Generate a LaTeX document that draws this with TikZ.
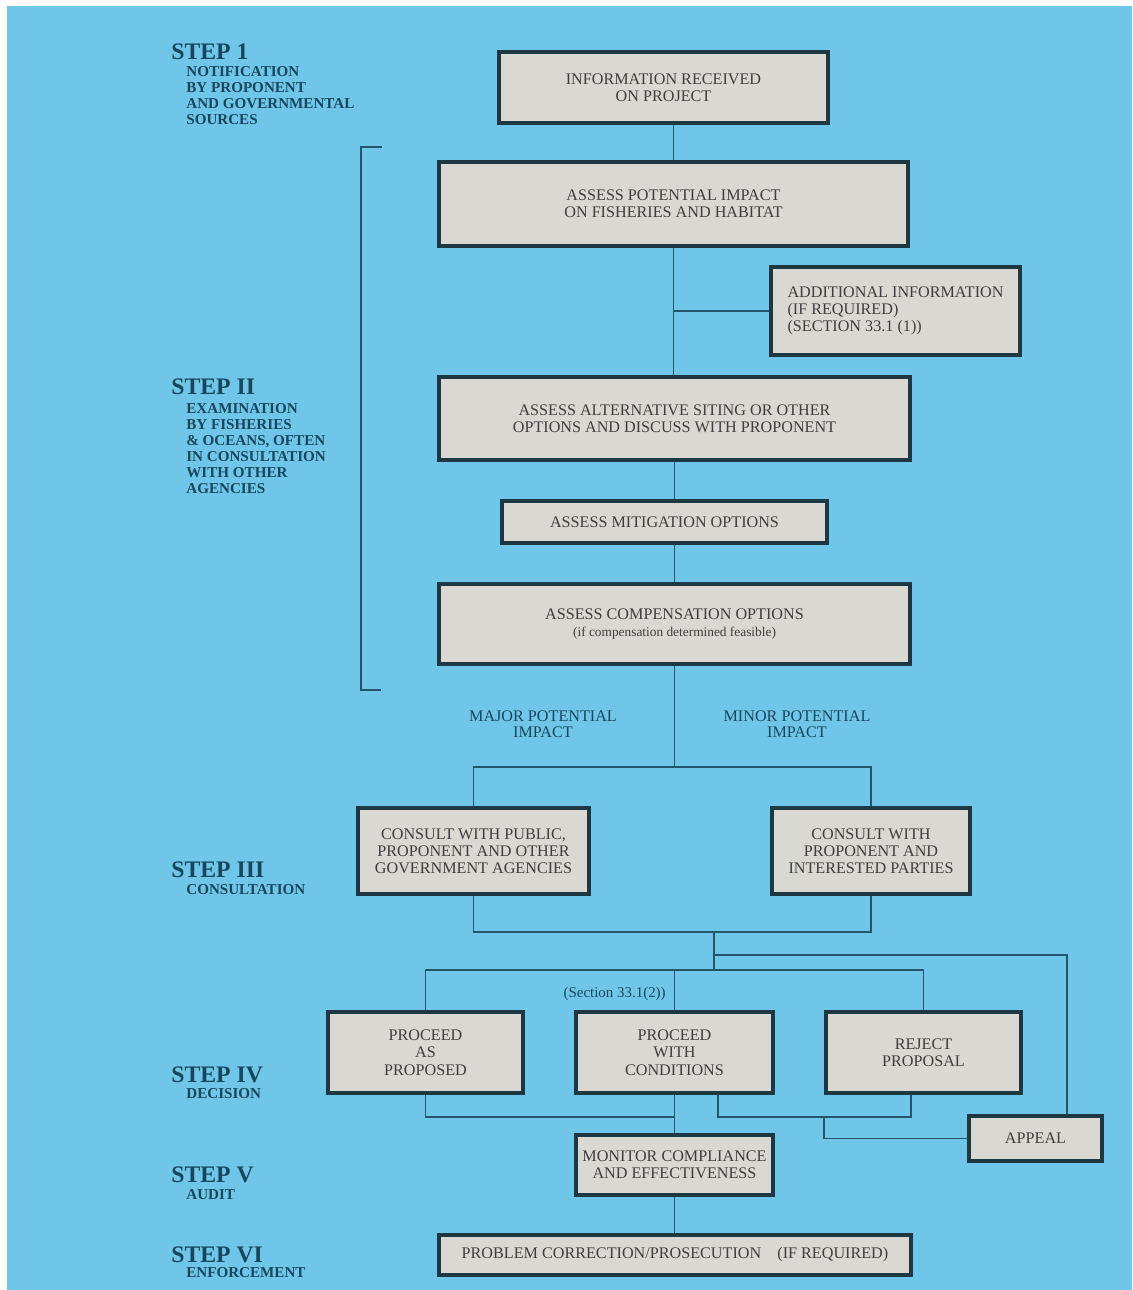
\documentclass[tikz,border=0pt]{standalone}
\usepackage{fontspec}
\setmainfont{Liberation Serif}
\usetikzlibrary{calc}
\definecolor{sheet}{HTML}{70C6E9}
\definecolor{boxfill}{HTML}{D9D8D3}
\definecolor{boxline}{HTML}{1D3842}
\definecolor{boxtext}{HTML}{3E3E3E}
\definecolor{wirecol}{HTML}{23566A}
\definecolor{steptext}{HTML}{17475C}

\begin{document}
\begin{tikzpicture}[x=0.02cm, y=-0.02cm,
    box/.style={draw=boxline, fill=boxfill, line width=2.2pt, inner sep=0pt, align=center,
        text=boxtext, font=\fontsize{9.2}{9.8}\selectfont},
    dim/.style 2 args={minimum width=#1*0.02cm-2.2pt, minimum height=#2*0.02cm-2.2pt},
    wire/.style={draw=wirecol, line width=1.1pt},
    stephead/.style={anchor=base west, inner sep=0pt, text=steptext, font=\bfseries\fontsize{13.5}{14}\selectfont},
    stepnote/.style={anchor=north west, inner sep=0pt, align=left, text=steptext, font=\bfseries\fontsize{8.6}{9.1}\selectfont},
    branch/.style={inner sep=0pt, align=center, text=steptext, font=\fontsize{9.2}{9.4}\selectfont}]

    \fill[white] (0,0) rectangle (1132,1290);
    \fill[sheet] (7,6) rectangle (1132,1290);
    \useasboundingbox (0,0) rectangle (1132,1290);

    % step column
    \node[stephead] (s1) at (171,60) {STEP 1};
    \node[stepnote] (n1) at (186,66) {NOTIFICATION\\BY PROPONENT\\AND GOVERNMENTAL\\SOURCES};
    \node[stephead] (s2) at (171,395) {STEP II};
    \node[stepnote] (n2) at (186,403) {EXAMINATION\\BY FISHERIES\\\& OCEANS, OFTEN\\IN CONSULTATION\\WITH OTHER\\AGENCIES};
    \node[stephead] (s3) at (171,877) {STEP III};
    \node[stepnote] (n3) at (186,884) {CONSULTATION};
    \node[stephead] (s4) at (171,1082) {STEP IV};
    \node[stepnote] (n4) at (186,1088) {DECISION};
    \node[stephead] (s5) at (171,1182) {STEP V};
    \node[stepnote] (n5) at (186,1189) {AUDIT};
    \node[stephead] (s6) at (171,1262) {STEP VI};
    \node[stepnote] (n6) at (186,1267) {ENFORCEMENT};

    \draw[wire] (382,147) -- (361,147) -- (361,690) -- (381,690);

    % boxes
    \node[box, dim={333}{75}] (info) at (663.5,87.5) {INFORMATION RECEIVED\\ON PROJECT};
    \node[box, dim={473}{88}] (impact) at (673.5,204) {ASSESS POTENTIAL IMPACT\\ON FISHERIES AND HABITAT};
    \node[box, dim={253}{92}, align=left] (addinfo) at (895.5,311) {ADDITIONAL INFORMATION\\(IF REQUIRED)\\(SECTION 33.1 (1))};
    \node[box, dim={475}{87}] (alter) at (674.5,418.5) {ASSESS ALTERNATIVE SITING OR OTHER\\OPTIONS AND DISCUSS WITH PROPONENT};
    \node[box, dim={329}{46}] (mitig) at (664.5,522) {ASSESS MITIGATION OPTIONS};
    \node[box, dim={475}{84}] (comp) at (674.5,624) {ASSESS COMPENSATION OPTIONS\\{\fontsize{7.6}{9.8}\selectfont (if compensation determined feasible)}};
    \node[box, dim={235}{90}] (public) at (473.5,851) {CONSULT WITH PUBLIC,\\PROPONENT AND OTHER\\GOVERNMENT AGENCIES};
    \node[box, dim={202}{90}] (partners) at (871,851) {CONSULT WITH\\PROPONENT AND\\INTERESTED PARTIES};
    \node[box, dim={199}{85}] (asis) at (425.5,1052.5) {PROCEED\\AS\\PROPOSED};
    \node[box, dim={201}{85}] (withc) at (674.5,1052.5) {PROCEED\\WITH\\CONDITIONS};
    \node[box, dim={199}{85}] (reject) at (923.5,1052.5) {REJECT\\PROPOSAL};
    \node[box, dim={201}{64}] (monitor) at (674.5,1165) {MONITOR COMPLIANCE\\AND EFFECTIVENESS};
    \node[box, dim={137}{49}] (appeal) at (1035.5,1138.5) {APPEAL};
    \node[box, dim={476}{44}] (fix) at (675,1255) {PROBLEM CORRECTION/PROSECUTION\quad (IF REQUIRED)};

    \node[branch] (major) at (543,724) {MAJOR POTENTIAL\\IMPACT};
    \node[branch] (minor) at (797,724) {MINOR POTENTIAL\\IMPACT};
    \node[branch, anchor=east, font=\fontsize{8.5}{8.5}\selectfont] (sect) at (666,994) {(Section 33.1(2))};

    % junctions
    \coordinate (fork) at (674.5,767);
    \coordinate (merge) at (714,932);
    \coordinate (tap) at (714,955);
    \coordinate (split) at (714,970);
    \coordinate (up) at (1067,955);
    \coordinate (gather) at (674.5,1117);
    \coordinate (pair) at (718,1117);
    \coordinate (rj) at (911,1117);
    \coordinate (drop) at (824,1117);

    % connectors
    \draw[wire] (info.south -| impact.north) -- (impact.north);
    \draw[wire] (impact.south) -- (impact.south |- alter.north);
    \draw[wire] (addinfo.west) -- (addinfo.west -| impact.south);
    \draw[wire] (alter.south) -- (alter.south |- mitig.north);
    \draw[wire] (alter.south |- mitig.south) -- (comp.north);
    \draw[wire] (comp.south) -- (fork);
    \draw[wire] (public.north) |- (fork) -| (partners.north);
    \draw[wire] (public.south) |- (merge) -| (partners.south);
    \draw[wire] (merge) -- (split);
    \draw[wire] (tap) -- (up) -- (up |- appeal.north);
    \draw[wire] (asis.north) |- (split) -| (reject.north);
    \draw[wire] (withc.north) -- (withc.north |- split);
    \draw[wire] (asis.south) |- (gather);
    \draw[wire] (withc.south) -- (monitor.north);
    \draw[wire] (withc.south -| pair) -- (pair) -- (rj) -- (rj |- reject.south);
    \draw[wire] (drop) |- (appeal.west);
    \draw[wire] (monitor.south) -- (monitor.south |- fix.north);

\end{tikzpicture}
\end{document}
